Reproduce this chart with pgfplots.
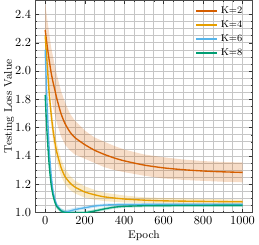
\documentclass[border=0pt]{standalone}
\usepackage{pgfplots}
\usepackage{pgfplotstable}
\pgfplotsset{compat=1.18}
\usepgfplotslibrary{fillbetween}
\definecolor{cK2}{RGB}{213,94,0}
\definecolor{cK4}{RGB}{230,159,0}
\definecolor{cK6}{RGB}{86,180,233}
\definecolor{cK8}{RGB}{0,158,115}

\pgfplotstableread{
ep mean hw
0 2.29 0.19
10 2.18 0.19
20 2.08 0.19
30 1.99 0.18
40 1.92 0.18
50 1.86 0.17
60 1.80 0.17
80 1.70 0.16
100 1.63 0.15
125 1.57 0.13
150 1.53 0.12
200 1.48 0.10
250 1.44 0.09
300 1.41 0.09
350 1.385 0.085
400 1.365 0.08
500 1.335 0.075
600 1.315 0.075
700 1.302 0.072
800 1.293 0.07
900 1.287 0.07
1000 1.283 0.07
}\kII

\pgfplotstableread{
ep mean hw
0 2.25 0.05
10 2.05 0.06
20 1.85 0.07
30 1.70 0.07
40 1.58 0.07
50 1.49 0.07
60 1.42 0.065
80 1.32 0.06
100 1.255 0.055
125 1.21 0.05
150 1.18 0.045
200 1.145 0.04
250 1.125 0.035
300 1.11 0.03
400 1.095 0.025
500 1.087 0.02
600 1.082 0.02
800 1.078 0.018
1000 1.075 0.015
}\kIV

\pgfplotstableread{
ep mean hw
0 2.15 0.02
5 1.95 0.02
10 1.76 0.02
20 1.46 0.02
30 1.27 0.02
40 1.15 0.02
50 1.09 0.018
60 1.05 0.016
80 1.015 0.015
100 1.003 0.015
125 1.01 0.015
150 1.02 0.014
200 1.033 0.013
250 1.045 0.012
300 1.052 0.011
400 1.056 0.01
600 1.057 0.01
1000 1.058 0.01
}\kVI

\pgfplotstableread{
ep mean hw
0 1.83 0.02
5 1.68 0.02
10 1.55 0.02
20 1.34 0.02
30 1.20 0.02
40 1.12 0.02
50 1.07 0.018
60 1.04 0.016
80 1.012 0.015
100 1.0 0.015
150 0.995 0.014
200 0.998 0.013
250 1.01 0.012
300 1.025 0.011
350 1.037 0.01
400 1.043 0.01
500 1.047 0.01
700 1.049 0.01
1000 1.05 0.01
}\kVIII

\begin{document}
\begin{tikzpicture}
\begin{axis}[
  scale only axis,
  width=176pt, height=172pt,
  xmin=-50, xmax=1050,
  ymin=1.0, ymax=2.5,
  xtick={0,200,400,600,800,1000},
  ytick={1.0,1.2,1.4,1.6,1.8,2.0,2.2,2.4},
  xticklabel style={/pgf/number format/.cd,set thousands separator={}},
  yticklabel style={/pgf/number format/.cd,fixed,fixed zerofill,precision=1},
  minor x tick num=3,
  minor y tick num=3,
  grid=both,
  major grid style={gray!45, line width=0.4pt},
  minor grid style={gray!45, line width=0.4pt},
  tick align=inside,
  xtick pos=both, ytick pos=both,
  major tick length=3pt, minor tick length=1.5pt,
  tick style={black!80},
  axis line style={black!70},
  xlabel={Epoch},
  ylabel={Testing Loss Value},
  label style={font=\small},
  xlabel style={yshift=2pt},
  ylabel style={yshift=-6pt},
  legend style={at={(0.965,1)}, yshift=-2.87pt, anchor=north east, draw=none, fill=none,
    inner sep=0pt, outer sep=0pt,
    font=\footnotesize, row sep=0pt,
    nodes={text height=5.5pt, text depth=1.97pt, inner sep=2pt}},
  legend cell align=left,
  clip=true,
]
\addlegendimage{cK2, line width=1.4pt}
\addlegendentry{K=2}
\addlegendimage{cK4, line width=1.4pt}
\addlegendentry{K=4}
\addlegendimage{cK6, line width=1.4pt}
\addlegendentry{K=6}
\addlegendimage{cK8, line width=1.4pt}
\addlegendentry{K=8}
% bands
\addplot[draw=none, name path=a2, forget plot] table[x=ep, y expr=\thisrow{mean}-\thisrow{hw}] {\kII};
\addplot[draw=none, name path=b2, forget plot] table[x=ep, y expr=\thisrow{mean}+\thisrow{hw}] {\kII};
\addplot[cK2, fill opacity=0.22, draw=none, forget plot] fill between[of=a2 and b2];
\addplot[draw=none, name path=a4, forget plot] table[x=ep, y expr=\thisrow{mean}-\thisrow{hw}] {\kIV};
\addplot[draw=none, name path=b4, forget plot] table[x=ep, y expr=\thisrow{mean}+\thisrow{hw}] {\kIV};
\addplot[cK4, fill opacity=0.22, draw=none, forget plot] fill between[of=a4 and b4];
\addplot[draw=none, name path=a6, forget plot] table[x=ep, y expr=\thisrow{mean}-\thisrow{hw}] {\kVI};
\addplot[draw=none, name path=b6, forget plot] table[x=ep, y expr=\thisrow{mean}+\thisrow{hw}] {\kVI};
\addplot[cK6, fill opacity=0.25, draw=none, forget plot] fill between[of=a6 and b6];
\addplot[draw=none, name path=a8, forget plot] table[x=ep, y expr=\thisrow{mean}-\thisrow{hw}] {\kVIII};
\addplot[draw=none, name path=b8, forget plot] table[x=ep, y expr=\thisrow{mean}+\thisrow{hw}] {\kVIII};
\addplot[cK8, fill opacity=0.25, draw=none, forget plot] fill between[of=a8 and b8];
% lines
\addplot[cK2, line width=1.1pt, smooth, tension=0.4, forget plot] table[x=ep, y=mean] {\kII};
\addplot[cK4, line width=1.1pt, smooth, tension=0.4, forget plot] table[x=ep, y=mean] {\kIV};
\addplot[cK6, line width=1.1pt, smooth, tension=0.4, forget plot] table[x=ep, y=mean] {\kVI};
\addplot[cK8, line width=1.1pt, smooth, tension=0.4, forget plot] table[x=ep, y=mean] {\kVIII};
\end{axis}
\end{tikzpicture}
\end{document}
